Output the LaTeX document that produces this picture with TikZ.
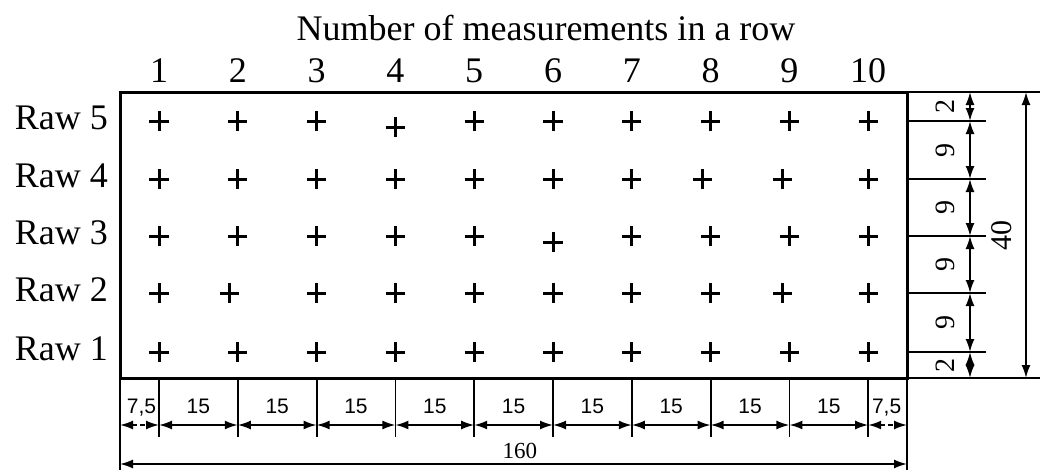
\documentclass[tikz,border=0pt]{standalone}
\usepackage{fontspec}
\setmainfont{Liberation Serif}
\newfontfamily\dimfont{Liberation Sans}
\usetikzlibrary{arrows.meta,shapes.misc}

\tikzset{
  plusmark/.style={cross out,draw,rotate=45,minimum size=10.5pt,inner sep=0pt,line width=3pt},
  dimline/.style={line width=1.8pt,{Latex[length=13pt,width=9pt]}-{Latex[length=13pt,width=9pt]}},
  extline/.style={line width=1.8pt},
  biglabel/.style={font=\fontsize{36}{40}\selectfont,inner sep=0pt},
  dimlabel/.style={font=\dimfont\fontsize{21}{24}\selectfont,inner sep=0pt},
  sizelabel/.style={font=\fontsize{23}{26}\selectfont,inner sep=0pt}
}

\begin{document}
\begin{tikzpicture}[x=1pt,y=-1pt]
  \useasboundingbox (0,0) rectangle (1045,471);

  % measurement field
  \node[draw,line width=3pt,minimum width=787pt,minimum height=286pt,
        inner sep=0pt,outer sep=0pt] (field) at (513.5,235) {};
  \node[biglabel,anchor=base] (title) at (546,40) {Number of measurements in a row};

  % column numbers
  \foreach \c in {1,...,10}
    \node[biglabel,anchor=base] (n-\c) at (159+78.8*\c-78.8,82) {\c};

  % rows and measuring points
  \foreach \r/\y in {1/352,2/293,3/236,4/179,5/121}{
    \node[biglabel,anchor=base east] (raw\r) at (108,\y+8) {Raw \r};
    \foreach \c in {1,...,10}{
      \pgfmathsetmacro\dx{-8*and(\r==2,\c==2)-8*and(\r==4,\c==8)-7*and(\r==4,\c==9)-7*and(\r==2,\c==9)}
      \pgfmathsetmacro\dy{6*and(\r==5,\c==4)+6*and(\r==3,\c==6)}
      \node[plusmark] (m-\r-\c) at (159+78.8*\c-78.8+\dx,\y+\dy) {};
    }
  }

  % bottom dimensions
  \foreach \k/\x in {0/120,1/159,2/237.8,3/316.6,4/395.4,5/474.2,6/553,
                     7/631.8,8/710.6,9/789.4,10/868.2,11/907}{
    \coordinate (b-\k) at (\x,378);
    \coordinate (a-\k) at (\x,425);
  }
  \foreach \k in {1,...,10}
    \draw[extline] (b-\k) -- ++(0,59) coordinate (d-\k);
  \draw[extline] (b-0) -- ++(0,92) coordinate (d-0);
  \draw[extline] (b-11) -- ++(0,92) coordinate (d-11);

  \foreach \k/\n in {1/2,2/3,3/4,4/5,5/6,6/7,7/8,8/9,9/10}
    \draw[dimline] (a-\k) -- node[dimlabel,anchor=base,yshift=12pt] (l-\k) {15} (a-\n);
  \draw[dimline,dash pattern=on 5pt off 3pt] (a-0) -- node[dimlabel,anchor=base,yshift=12pt,xshift=2pt] (l-0) {7,5} (a-1);
  \draw[dimline,dash pattern=on 5pt off 3pt] (a-10) -- node[dimlabel,anchor=base,yshift=12pt,xshift=-1pt] (l-10) {7,5} (a-11);

  \coordinate (e-0) at (120,464);
  \coordinate (e-1) at (907,464);
  \draw[dimline] (e-0) -- node[sizelabel,anchor=base,pos=0.508,yshift=6pt] (total) {160} (e-1);

  % right dimensions
  \foreach \k/\y in {0/92,1/121,2/179,3/236,4/293,5/352,6/378}{
    \coordinate (s-\k) at (907,\y);
    \coordinate (v-\k) at (970,\y);
  }
  \foreach \k in {1,...,5}
    \draw[extline] (s-\k) -- ++(79,0);
  \draw[extline] (s-0) -- ++(133,0);
  \draw[extline] (s-6) -- ++(133,0);

  \foreach \k/\n/\t in {0/1/2,1/2/9,2/3/9,3/4/9,4/5/9,5/6/2}
    \draw[dimline] (v-\k) -- node[sizelabel,font=\fontsize{28}{30}\selectfont,
                                  rotate=90,yshift=25pt] (h-\k) {\t} (v-\n);

  \coordinate (w-0) at (1026,92);
  \coordinate (w-1) at (1026,378);
  \draw[dimline] (w-0) -- node[font=\fontsize{30}{34}\selectfont,inner sep=0pt,
                               rotate=90,yshift=24pt] (height) {40} (w-1);
\end{tikzpicture}
\end{document}
